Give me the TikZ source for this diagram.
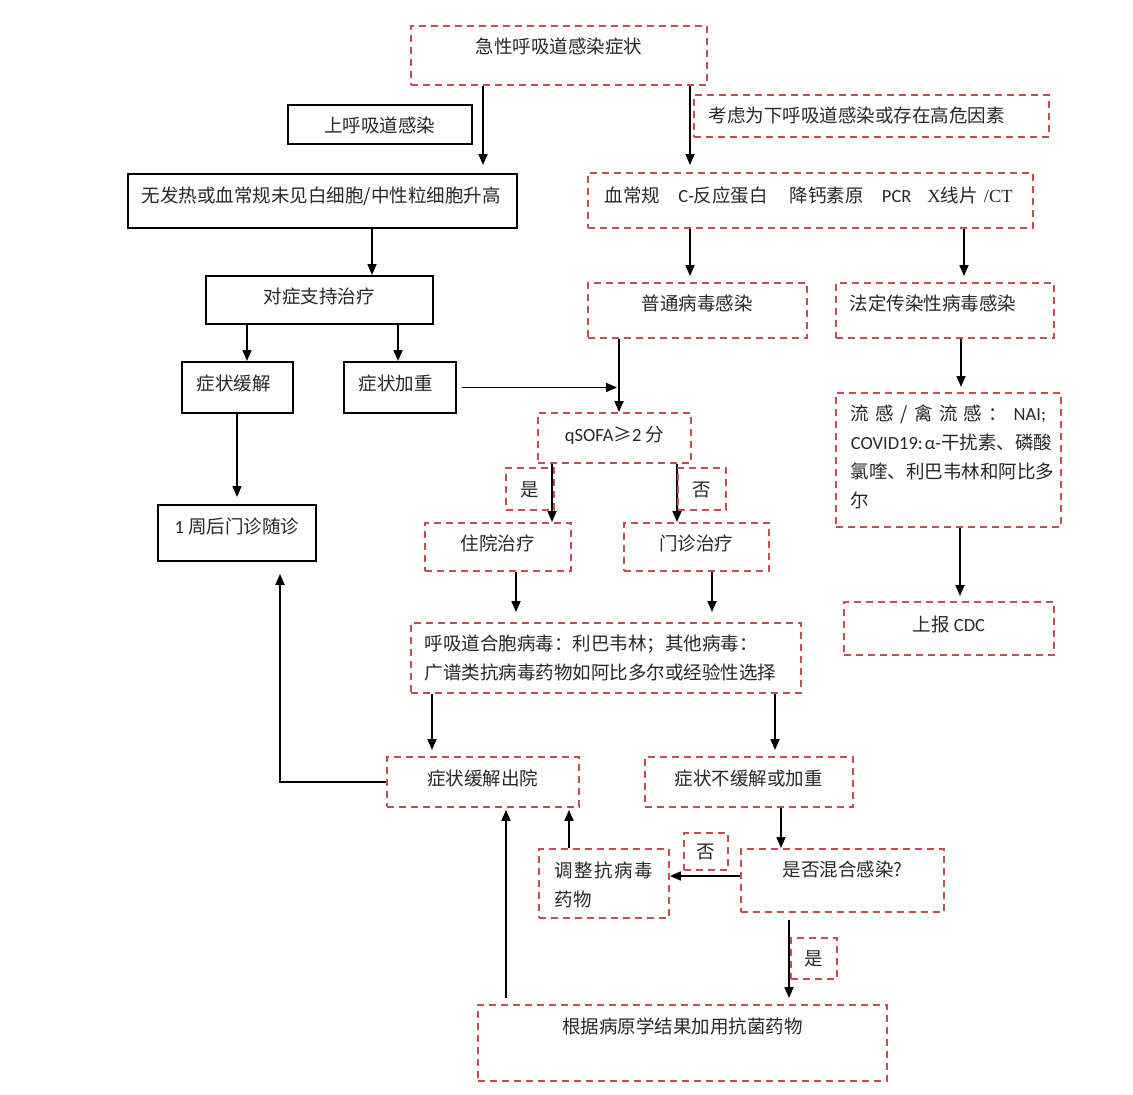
\documentclass[tikz,border=0pt]{standalone}
\usepackage{fontspec}
\setmainfont{Noto Sans CJK SC}
\newfontfamily\lat{Carlito}
\newfontfamily\tms{Liberation Serif}
\usetikzlibrary{arrows.meta}
\definecolor{boxred}{RGB}{192,80,77}
\definecolor{txt}{RGB}{40,40,40}
\newcommand\bx[8]{%
  \pgfmathsetmacro\bxw{#5-#3}%
  \pgfmathsetmacro\bxth{#7-#4}%
  \pgfmathsetmacro\bxtd{#6-#7}%
  \node[#2,anchor=north west,minimum width=\bxw pt,inner xsep=0pt,inner ysep=0pt,text height=\bxth pt,text depth=\bxtd pt] (#1) at (#3,#4) {#8};}
\newcommand\bxl[9]{%
  \pgfmathsetmacro\bxw{#5-#3}%
  \pgfmathsetmacro\bxtw{#5-#3-2*#8}%
  \pgfmathsetmacro\bxth{#7-#4}%
  \pgfmathsetmacro\bxtd{#6-#7}%
  \node[#2,anchor=north west,minimum width=\bxw pt,inner xsep=#8pt,inner ysep=0pt,text width=\bxtw pt,align=left,text height=\bxth pt,text depth=\bxtd pt] (#1) at (#3,#4) {#9};}
\tikzset{
  rbox/.style={draw=boxred,line width=1.9pt,dash pattern=on 7pt off 5pt,text=txt},
  kbox/.style={draw=black,line width=1.9pt,text=txt},
  arr/.style={-{Triangle[length=11pt,width=9pt]},line width=1.7pt,black},
  every node/.style={font=\fontsize{18.5}{29}\selectfont}
}
\begin{document}
\begin{tikzpicture}[x=1pt,y=-1pt]
\fill[white] (0,0) rectangle (1133,1095);
\useasboundingbox (0,0) rectangle (1133,1095);
\bx{n1}{rbox}{410}{25}{706}{84}{53}{急性呼吸道感染症状}
\bx{n2}{kbox}{287}{104}{471}{143}{132}{上呼吸道感染}
\bxl{n3}{rbox}{693}{94}{1048}{136}{122}{15}{考虑为下呼吸道感染或存在高危因素}
\bxl{n4}{kbox}{127}{173}{516}{227}{202}{14}{无发热或血常规未见白细胞/中性粒细胞升高}
\bxl{n5}{rbox}{587}{172}{1032}{227}{202}{17}{血常规\hspace{18pt}{\lat C-}反应蛋白\hspace{22pt}降钙素原\hspace{18pt}{\lat PCR}\hspace{16pt}{\tms X}线片{\tms\ /CT}}
\bx{n6}{kbox}{205}{275}{432}{323}{303}{对症支持治疗}
\bx{n7}{rbox}{587}{282}{806}{337}{310}{普通病毒感染}
\bxl{n8}{rbox}{835}{282}{1053}{337}{310}{14}{法定传染性病毒感染}
\bxl{n9}{kbox}{181}{361}{292}{412}{390}{15}{症状缓解}
\bxl{n10}{kbox}{343}{361}{455}{412}{390}{15}{症状加重}
\bx{n11}{rbox}{537}{412}{690}{462}{441}{{\lat qSOFA}≥{\lat 2} 分}
\bxl{n12}{rbox}{835}{392}{1060}{526}{420}{15}{\makebox[\linewidth]{流\hfill 感\hfill /\hfill 禽\hfill 流\hfill 感\hfill ：\hfill {\lat NAI;}}\\\mbox{{\lat COVID19:\hspace{2pt}α-}干扰素、磷酸}\\\mbox{氯喹、利巴韦林和阿比多}\\尔}
\bx{n15}{kbox}{157}{504}{315}{560}{533}{{\lat 1} 周后门诊随诊}
\bx{n16}{rbox}{424}{522}{570}{570}{550}{住院治疗}
\bx{n17}{rbox}{623}{522}{768}{570}{550}{门诊治疗}
\bx{n18}{rbox}{843}{601}{1053}{654}{631}{上报 {\lat CDC}}
\bxl{n19}{rbox}{410}{622}{800}{692}{650}{14}{呼吸道合胞病毒：利巴韦林；其他病毒：\\广谱类抗病毒药物如阿比多尔或经验性选择}
\bx{n20}{rbox}{386}{756}{578}{806}{785}{症状缓解出院}
\bx{n21}{rbox}{644}{756}{852}{806}{785}{症状不缓解或加重}
\bxl{n23}{rbox}{538}{848}{668}{917}{877}{16}{\makebox[\linewidth]{调\hfill 整\hfill 抗\hfill 病\hfill 毒}\\药物}
\bx{n24}{rbox}{740}{848}{943}{911}{876}{是否混合感染?}
\bx{n26}{rbox}{477}{1004}{886}{1080}{1033}{根据病原学结果加用抗菌药物}
% arrows
\draw[arr,shorten >=8pt] (n1.south -| 483,0) -- (n4.north -| 483,0);
\draw[arr,shorten >=7pt] (n1.south -| 690,0) -- (n5.north -| 690,0);
\draw[arr] (n4.south -| 372,0) -- (n6.north -| 372,0);
\draw[arr,shorten >=6pt] (n5.south -| 690,0) -- (n7.north -| 690,0);
\draw[arr,shorten >=6pt] (n5.south -| 964,0) -- (n8.north -| 964,0);
\draw[arr] (n6.south -| 247,0) -- (n9.north -| 247,0);
\draw[arr] (n6.south -| 398,0) -- (n10.north -| 398,0);
\draw[arr,shorten <=5pt] (n10.east) -- (n10.east -| 617,0);
\draw[arr] (n7.south -| 619,0) -- (n11.north -| 619,0);
\draw[arr,shorten >=5pt] (n8.south -| 961,0) -- (n12.north -| 961,0);
\draw[arr,shorten >=7pt] (n9.south -| 237,0) -- (n15.north -| 237,0);
\draw[arr] (n11.south -| 552,0) -- (n16.north -| 552,0);
\draw[arr] (n11.south -| 677,0) -- (n17.north -| 677,0);
\draw[arr,shorten >=5pt] (n12.south -| 960,0) -- (n18.north -| 960,0);
\draw[arr,shorten >=10pt] (n16.south -| 516,0) -- (n19.north -| 516,0);
\draw[arr,shorten >=10pt] (n17.south -| 712,0) -- (n19.north -| 712,0);
\draw[arr,shorten >=6pt] (n19.south -| 432,0) -- (n20.north -| 432,0);
\draw[arr,shorten >=6pt] (n19.south -| 775,0) -- (n21.north -| 775,0);
\draw[arr,shorten >=12pt] (n20.west) -- (n20.west -| 280,0) -- (n15.south -| 280,0);
\draw[arr] (n21.south -| 781,0) -- (n24.north -| 781,0);
\draw[arr] (n24.west |- 0,876) -- (n23.east |- 0,876);
\draw[arr,shorten >=2pt] (n23.north -| 569,0) -- (n20.south -| 569,0);
\draw[arr,shorten <=7pt,shorten >=6pt] (n24.south -| 789,0) -- (n26.north -| 789,0);
\draw[arr,shorten <=6pt,shorten >=2pt] (n26.north -| 506,0) -- (n20.south -| 506,0);
% yes/no labels
\bx{l1}{rbox}{505}{467}{553}{509}{496}{是}
\bx{l2}{rbox}{677}{467}{725}{509}{496}{否}
\bx{l3}{rbox}{683}{832}{727}{869}{858}{否}
\bx{l4}{rbox}{790}{937}{836}{978}{965}{是}
\end{tikzpicture}
\end{document}
